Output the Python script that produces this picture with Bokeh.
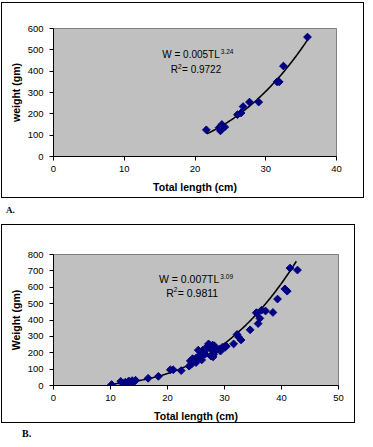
import numpy as np
from bokeh.plotting import figure
from bokeh.layouts import column
from bokeh.models import Range1d, FixedTicker, Div
from bokeh.core.properties import value
from bokeh.embed import file_html
from bokeh.resources import INLINE

# ---------------- data ----------------
# Panel A
lenA = [21.6, 23.4, 23.6, 23.7, 23.8, 24.0, 24.2, 26.0, 26.5, 26.8, 27.7, 29.0, 31.6, 31.9, 32.5, 35.9]
wtA = [125, 135, 120, 128, 150, 140, 138, 196, 204, 234, 255, 255, 350, 350, 424, 560]
coefA, expA = 0.005, 3.24
fitA_range = [21.7, 36.0]
xticksA = [0, 10, 20, 30, 40]
yticksA = [0, 100, 200, 300, 400, 500, 600]

# Panel B
lenB = [10.2, 11.8, 12.3, 12.6, 12.9, 13.2, 13.5, 13.8, 14.1, 14.4, 16.6, 18.4, 20.5, 21.0, 22.4,
        23.8, 24.0, 24.4, 24.8, 25.1, 25.4, 25.7, 26.0, 26.2, 26.6, 26.8, 27.2, 27.5, 27.6, 27.9,
        28.1, 28.2, 28.5, 29.1, 29.6, 30.1, 31.6, 32.2, 32.5, 32.9, 34.5, 35.6, 35.9, 36.2, 36.5,
        37.2, 38.5, 39.3, 40.6, 41.0, 41.5, 42.8,
        25.0, 26.4, 27.0, 27.4, 28.0, 29.3, 30.3, 35.7, 24.2, 27.8]
wtB = [6, 25, 12, 20, 8, 28, 18, 30, 22, 32, 44, 56, 96, 96, 91,
       118, 150, 164, 158, 170, 216, 180, 156, 216, 191, 222, 254, 224, 180, 247,
       191, 243, 216, 222, 233, 233, 254, 312, 295, 278, 340, 445, 378, 410, 460,
       455, 446, 528, 590, 576, 717, 705,
       140, 200, 240, 245, 175, 210, 240, 440, 130, 230]
coefB, expB = 0.007, 3.09
fitB_range = [10.0, 42.6]
xticksB = [0, 10, 20, 30, 40, 50]
yticksB = [0, 100, 200, 300, 400, 500, 600, 700, 800]

FONT = "Liberation Sans"
NAVY = "#000080"


def panel(xs, ys, coef, ex, frange, xticks, yticks, ytitle,
          fw, fh, bl, br, bt, bb, eq_xy, r_xy, eqsize, coef_txt, ex_txt, r2_txt):
    p = figure(frame_width=fw, frame_height=fh,
               x_range=Range1d(xticks[0], xticks[-1]), y_range=Range1d(yticks[0], yticks[-1]),
               output_backend="svg", toolbar_location=None,
               min_border_left=bl, min_border_right=br, min_border_top=bt, min_border_bottom=bb,
               background_fill_color="#C0C0C0", border_fill_color="white")
    p.outline_line_color = "#808080"
    p.outline_line_width = 1
    p.grid.visible = False
    for ax in (p.xaxis[0], p.yaxis[0]):
        ax.axis_line_color = "black"
        ax.major_tick_line_color = "black"
        ax.major_tick_out = 4
        ax.major_tick_in = 0
        ax.minor_tick_line_color = None
        ax.major_label_text_font = FONT
        ax.major_label_text_font_size = "9.5px"
        ax.major_label_text_color = "black"
        ax.axis_label_text_font = FONT
        ax.axis_label_text_font_style = "bold"
        ax.axis_label_text_font_size = "10.5px"
        ax.axis_label_text_color = "black"
    p.xaxis.ticker = FixedTicker(ticks=xticks)
    p.yaxis.ticker = FixedTicker(ticks=yticks)
    p.xaxis.axis_label = "Total length (cm)"
    p.yaxis.axis_label = ytitle
    p.xaxis.major_label_standoff = 5
    p.yaxis.major_label_standoff = 6
    p.xaxis.axis_label_standoff = 6
    p.yaxis.axis_label_standoff = 3

    # fitted trend line from displayed equation
    tl = np.linspace(frange[0], frange[1], 120)
    p.line(tl, coef * tl ** ex, line_color="black", line_width=1.6)
    p.scatter(xs, ys, marker="square", size=5.5, angle=np.pi / 4,
              fill_color=NAVY, line_color=NAVY)

    # equation text
    p.text(x=[eq_xy[0]], y=[eq_xy[1]], text=[coef_txt], text_font=value(FONT),
           text_font_size=eqsize, text_align="right", text_baseline="middle", text_color="black")
    p.text(x=[eq_xy[0]], y=[eq_xy[1]], text=[ex_txt], text_font=value(FONT),
           text_font_size="6.5px", text_align="left", text_baseline="middle", text_color="black",
           x_offset=1, y_offset=-3)
    p.text(x=[r_xy[0]], y=[r_xy[1]], text=["R"], text_font=value(FONT),
           text_font_size=eqsize, text_align="right", text_baseline="middle", text_color="black")
    p.text(x=[r_xy[0]], y=[r_xy[1]], text=["2"], text_font=value(FONT),
           text_font_size="6.5px", text_align="left", text_baseline="middle", text_color="black",
           x_offset=0, y_offset=-3)
    p.text(x=[r_xy[0]], y=[r_xy[1]], text=[r2_txt], text_font=value(FONT),
           text_font_size=eqsize, text_align="left", text_baseline="middle", text_color="black",
           x_offset=4)
    p.styles = {"border": "1px solid black"}
    return p


pA = panel(lenA, wtA, coefA, expA, fitA_range, xticksA, yticksA, "weight (gm)",
           fw=281, fh=126, bl=42, br=33, bt=25, bb=43,
           eq_xy=(23.5, 476), r_xy=(17.6, 408), eqsize="10px",
           coef_txt="W = 0.005TL", ex_txt="3.24", r2_txt="= 0.9722")
pA.margin = (2, 0, 0, 1)

pB = panel(lenB, wtB, coefB, expB, fitB_range, xticksB, yticksB, "Weight (gm)",
           fw=283, fh=129, bl=51, br=18, bt=29, bb=36,
           eq_xy=(29.1, 648), r_xy=(21.1, 565), eqsize="10.5px",
           coef_txt="W = 0.007TL", ex_txt="3.09", r2_txt="= 0.9811")
pB.margin = (0, 0, 0, 1)

lab_style = {"font-family": "Liberation Serif", "font-weight": "bold", "color": "black"}
divA = Div(text="A.", width=60, height=26, margin=(0, 0, 0, 0),
           styles=dict(lab_style, **{"font-size": "9px", "padding-left": "6px", "padding-top": "6px"}))
divB = Div(text="B.", width=60, height=20, margin=(0, 0, 0, 0),
           styles=dict(lab_style, **{"font-size": "10px", "padding-left": "22px", "padding-top": "4px"}))

layout = column(pA, divA, pB, divB, spacing=0)
open("out.html", "w").write(file_html(layout, INLINE))
